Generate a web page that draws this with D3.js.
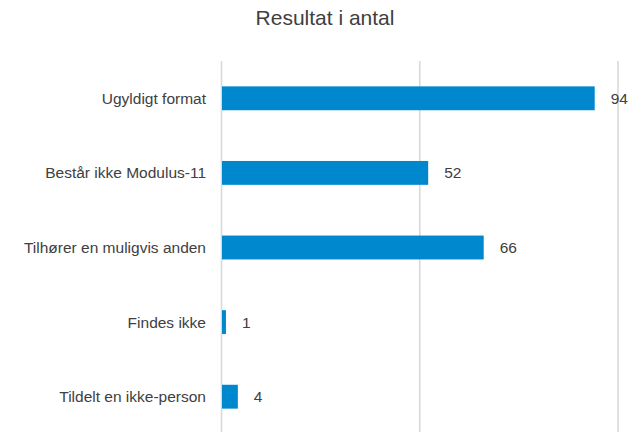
<!DOCTYPE html>
<html>
<head>
<meta charset="utf-8">
<script src="https://cdn.jsdelivr.net/npm/d3@7"></script>
<style>
	body { margin: 0; background: #fff; }
	text { font-family: "Liberation Sans", Arial, sans-serif; fill: #404040; }
</style>
</head>
<body>
<div id="chart"></div>
<script>
	var categories = ["Ugyldigt format", "Består ikke Modulus-11", "Tilhører en muligvis anden", "Findes ikke", "Tildelt en ikke-person"];
	var values = [94, 52, 66, 1, 4];
	var ticks = [0, 50, 100];
	var title = "Resultat i antal";

	(function(){
		var width = 642,
			height = 432;

		var svg = d3.select('#chart').append('svg')
			.attr('width', width)
			.attr('height', height);

		var xScale = d3.scaleLinear()
			.domain([0, 100])
			.range([222, 618.5]);

		var yScale = d3.scaleBand()
			.domain(categories)
			.range([61, 434])
			.paddingInner(0.68)
			.paddingOuter(0.34);

		svg.append('text')
			.attr('x', 325)
			.attr('y', 25)
			.attr('text-anchor', 'middle')
			.style('font-size', '21px')
			.text(title);

		// gridlines
		svg.append('g')
			.selectAll('line').data(ticks)
			.enter().append('line')
			.attr('x1', function (d) { return xScale(d) - 0.5; })
			.attr('x2', function (d) { return xScale(d) - 0.5; })
			.attr('y1', 61)
			.attr('y2', height)
			.style('stroke', '#d9d9d9')
			.style('stroke-width', 1.6);

		var data = categories.map(function (c, i) { return { cat: c, val: values[i] }; });

		svg.append('g')
			.selectAll('rect').data(data)
			.enter().append('rect')
			.attr('x', xScale(0))
			.attr('y', function (d) { return yScale(d.cat); })
			.attr('width', function (d) { return xScale(d.val) - xScale(0); })
			.attr('height', yScale.bandwidth())
			.style('fill', '#0088ce');

		// value labels
		svg.append('g')
			.selectAll('text').data(data)
			.enter().append('text')
			.attr('x', function (d) { return xScale(d.val) + 16; })
			.attr('y', function (d) { return yScale(d.cat) + yScale.bandwidth() / 2; })
			.attr('dy', '0.35em')
			.style('font-size', '15.5px')
			.text(function (d) { return d.val; });

		// category labels
		svg.append('g')
			.selectAll('text').data(categories)
			.enter().append('text')
			.attr('x', 206)
			.attr('y', function (d) { return yScale(d) + yScale.bandwidth() / 2; })
			.attr('dy', '0.35em')
			.attr('text-anchor', 'end')
			.style('font-size', '15.5px')
			.text(function (d) { return d; });
	})();
</script>
</body>
</html>
